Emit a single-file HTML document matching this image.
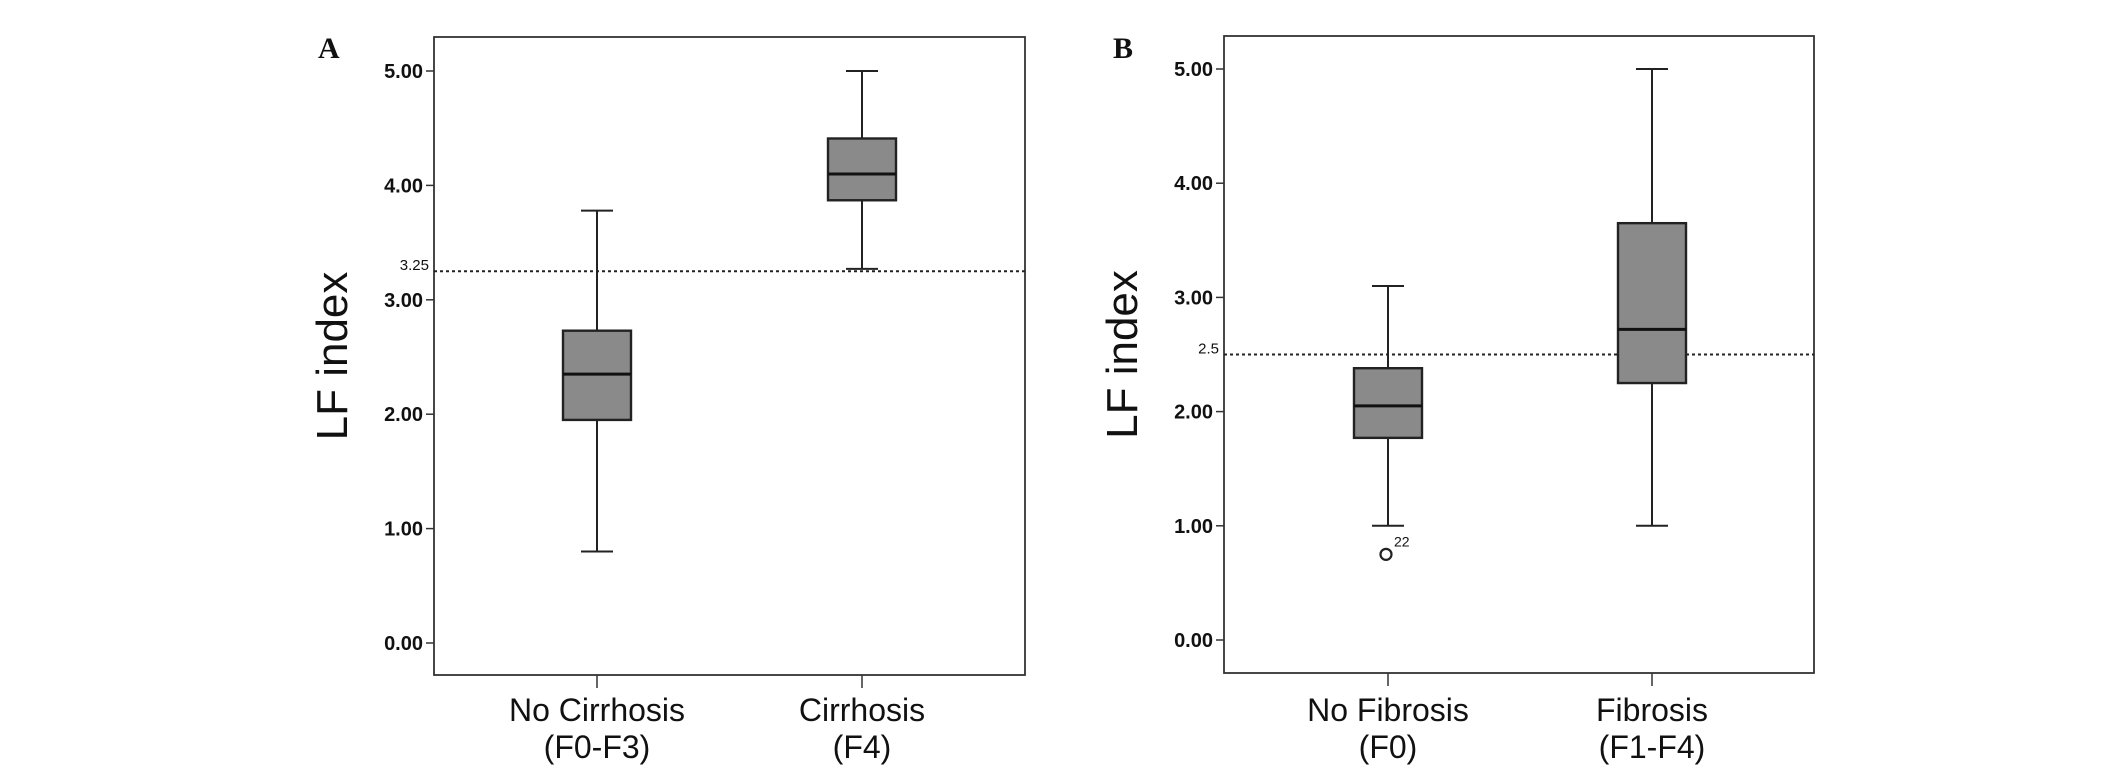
<!DOCTYPE html>
<html><head><meta charset="utf-8">
<style>
html,body{margin:0;padding:0;background:#fff;}
svg{display:block;}
text{font-family:"Liberation Sans",Arial,sans-serif;fill:#111;}
</style></head>
<body>
<svg id="chart" width="2126" height="779" viewBox="0 0 2126 779"></svg>
<script>
const panelLetters = ["A", "B"];
const categoriesA = [["No Cirrhosis", "(F0-F3)"], ["Cirrhosis", "(F4)"]];
const categoriesB = [["No Fibrosis", "(F0)"], ["Fibrosis", "(F1-F4)"]];
// [whiskerLow, q1, median, q3, whiskerHigh]
const boxesA = [[0.8, 1.95, 2.35, 2.73, 3.78], [3.27, 3.87, 4.1, 4.41, 5.0]];
const boxesB = [[1.0, 1.77, 2.05, 2.38, 3.1], [1.0, 2.25, 2.72, 3.65, 5.0]];
const outliersB = [[0, 0.75, "22"]];
const cutoffA = 3.25, cutoffLabelA = "3.25";
const cutoffB = 2.5, cutoffLabelB = "2.5";
const yTicks = [0, 1, 2, 3, 4, 5];
const yTickLabels = ["0.00", "1.00", "2.00", "3.00", "4.00", "5.00"];

const NS = "http://www.w3.org/2000/svg";
const svg = document.getElementById("chart");
function mk(tag, attrs, parent) {
  const e = document.createElementNS(NS, tag);
  for (const k in attrs) e.setAttribute(k, attrs[k]);
  (parent || svg).appendChild(e);
  return e;
}

function panel(cfg) {
  const g = mk("g", {});
  
  
  const y = v => cfg.y0 + (cfg.y5 - cfg.y0) * v / 5;
  const x = i => cfg.cx[i];

  const letter = mk("text", {x: cfg.letterX, y: 58, "font-size": 30, "font-weight": "bold", style: "font-family:'Liberation Serif',serif"}, g);
  letter.textContent = cfg.letter;
  
  

  const frame = mk("rect", {x: cfg.left, y: cfg.top, width: cfg.right - cfg.left, height: cfg.bottom - cfg.top, fill: "none", stroke: "#333", "stroke-width": 1.8}, g);
  
  

  yTicks.forEach((t, i) => {
    const tk = mk("line", {x1: cfg.left - 8, x2: cfg.left, y1: y(t), y2: y(t), stroke: "#333", "stroke-width": 1.5}, g);
    
    
    const lb = mk("text", {x: cfg.left - 11, y: y(t) + 7, "font-size": 20, "font-weight": "bold", "text-anchor": "end", fill: "#222"}, g);
    lb.textContent = yTickLabels[i];
    
    
  });

  const yt = mk("text", {x: 0, y: 0, "font-size": 44, "text-anchor": "middle", transform: `translate(${cfg.titleX + 16},${(cfg.top + cfg.bottom) / 2}) rotate(-90)`}, g);
  yt.textContent = "LF index";
  
  

  const cl = mk("line", {x1: cfg.left, x2: cfg.right, y1: y(cfg.cutoff), y2: y(cfg.cutoff), stroke: "#222", "stroke-width": 2, "stroke-dasharray": "3,3"}, g);
  
  
  const clt = mk("text", {x: cfg.left - 5, y: y(cfg.cutoff) - 1, "font-size": 15, "text-anchor": "end", fill: "#222"}, g);
  clt.textContent = cfg.cutoffLabel;
  
  

  const hw = 34, cap = 16;
  cfg.boxes.forEach((b, i) => {
    const bg = mk("g", {}, g);
    
    
    const cx = x(i);
    mk("line", {x1: cx, x2: cx, y1: y(b[0]), y2: y(b[1]), stroke: "#222", "stroke-width": 2}, bg);
    mk("line", {x1: cx, x2: cx, y1: y(b[3]), y2: y(b[4]), stroke: "#222", "stroke-width": 2}, bg);
    mk("line", {x1: cx - cap, x2: cx + cap, y1: y(b[0]), y2: y(b[0]), stroke: "#222", "stroke-width": 2}, bg);
    mk("line", {x1: cx - cap, x2: cx + cap, y1: y(b[4]), y2: y(b[4]), stroke: "#222", "stroke-width": 2}, bg);
    mk("rect", {x: cx - hw, y: y(b[3]), width: 2 * hw, height: y(b[1]) - y(b[3]), fill: "#8a8a8a", stroke: "#222", "stroke-width": 2.4}, bg);
    mk("line", {x1: cx - hw, x2: cx + hw, y1: y(b[2]), y2: y(b[2]), stroke: "#111", "stroke-width": 3}, bg);

    const xt = mk("line", {x1: cx, x2: cx, y1: cfg.bottom, y2: cfg.bottom + 13, stroke: "#333", "stroke-width": 1.5}, g);
    
    
    cfg.cats[i].forEach((line, j) => {
      const t = mk("text", {x: cx, y: 721 + j * 37, "font-size": 32, "text-anchor": "middle"}, g);
      t.textContent = line;
      
      
    });
  });

  (cfg.outliers || []).forEach(o => {
    const c = mk("circle", {cx: x(o[0]) - 2, cy: y(o[1]), r: 5.5, fill: "#fff", stroke: "#222", "stroke-width": 2.2}, g);
    
    
    const t = mk("text", {x: x(o[0]) + 6, y: y(o[1]) - 8, "font-size": 14, fill: "#222"}, g);
    t.textContent = o[2];
    
    
  });
}

panel({letter: panelLetters[0], letterX: 318, left: 434, right: 1025, top: 37, bottom: 675, y0: 643, y5: 71,
  cx: [597, 862], titleX: 331, boxes: boxesA, cats: categoriesA, cutoff: cutoffA, cutoffLabel: cutoffLabelA});
panel({letter: panelLetters[1], letterX: 1113, left: 1224, right: 1814, top: 36, bottom: 673, y0: 640, y5: 69,
  cx: [1388, 1652], titleX: 1121, boxes: boxesB, cats: categoriesB, cutoff: cutoffB, cutoffLabel: cutoffLabelB, outliers: outliersB});
</script>
</body></html>
